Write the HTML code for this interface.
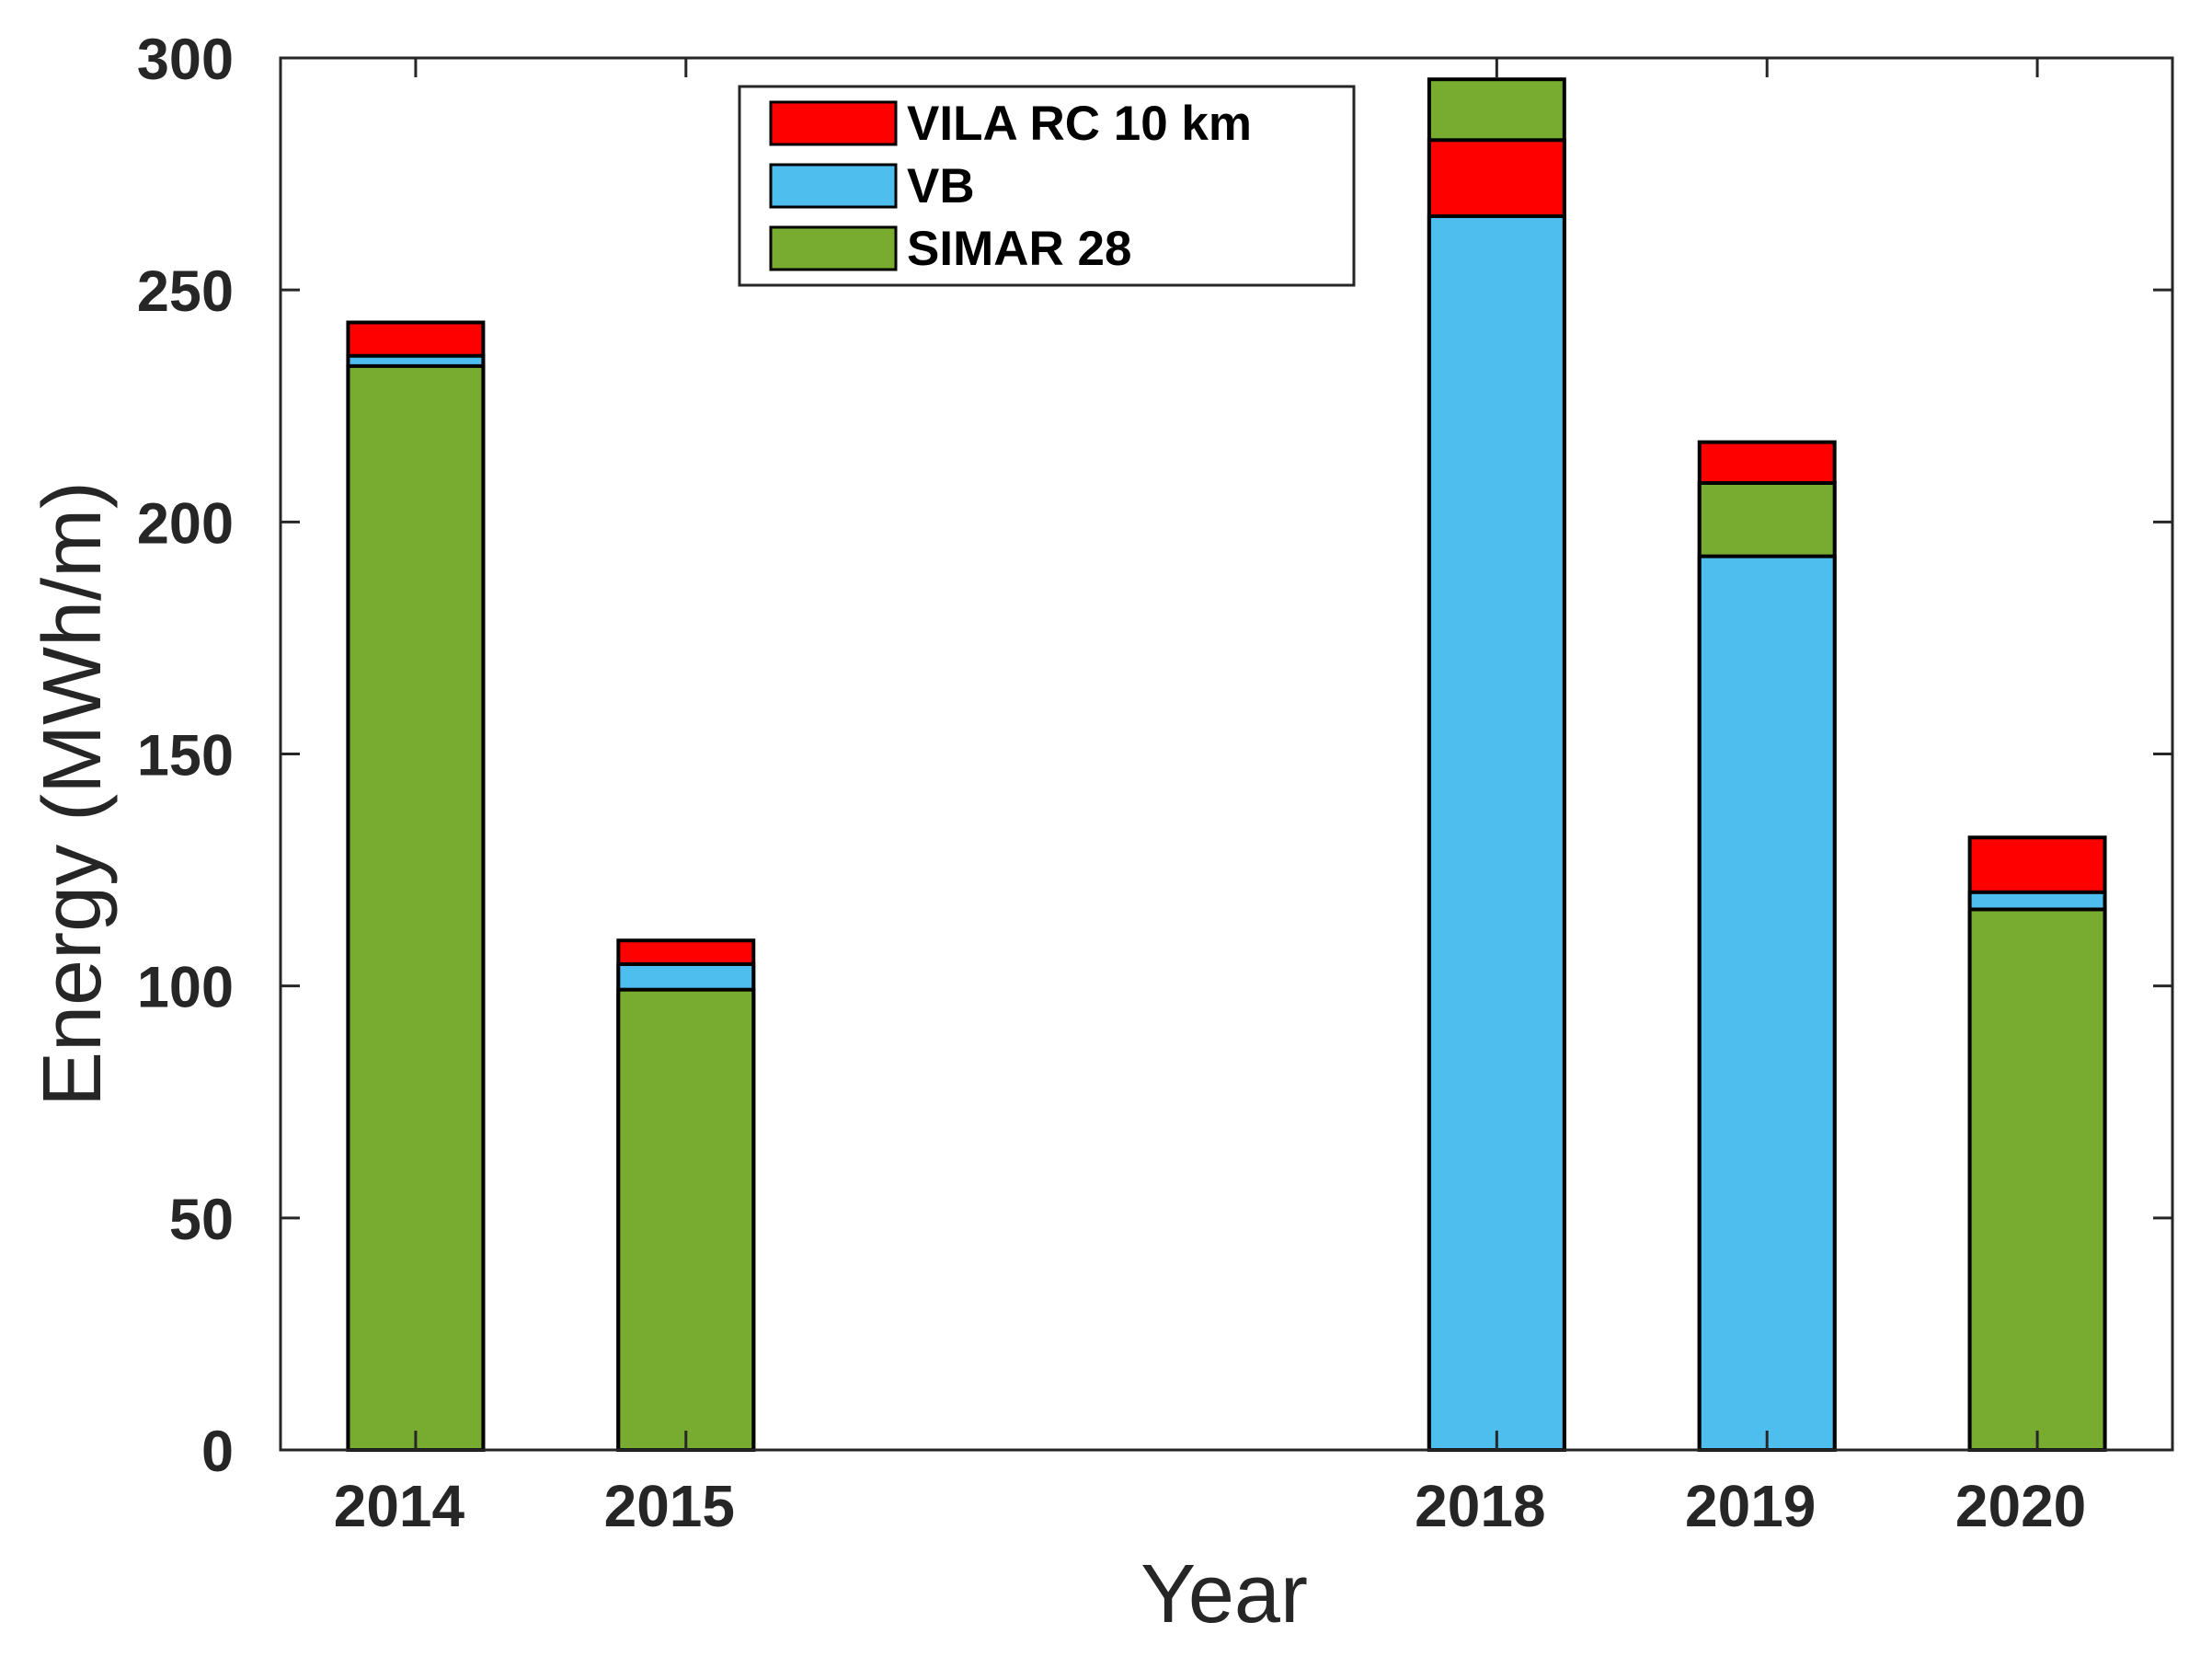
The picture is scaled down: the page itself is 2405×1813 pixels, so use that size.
<!DOCTYPE html>
<html><head><meta charset="utf-8"><style>
html,body{margin:0;padding:0;background:#fff}
svg{display:block;font-family:"Liberation Sans",sans-serif}
</style></head><body>
<svg id="chart" width="2405" height="1813" viewBox="0 0 2405 1813" xmlns="http://www.w3.org/2000/svg">
<rect x="0" y="0" width="2405" height="1813" fill="#fff"/>
<g id="bars"></g>
<g id="axes"></g>
<text x="85" y="863" transform="rotate(-90 85 863)" text-anchor="middle" dominant-baseline="middle" font-size="90" fill="#262626">Energy (MWh/m)</text>
<text x="1331" y="1763" text-anchor="middle" font-size="90" fill="#262626">Year</text>
<g id="legend"></g>
</svg>
<script>
const years = [2014, 2015, 2018, 2019, 2020];
const seriesNames = ["VILA RC 10 km", "VB", "SIMAR 28"];
const seriesColors = ["#ff0000", "#4dbeee", "#77ac30"];
const vilaValues = [243, 109.8, 282.3, 217.2, 132];
const vbValues = [235.8, 104.7, 265.9, 192.6, 120.2];
const simarValues = [233.6, 99.2, 295.4, 208.4, 116.5];
const yTicks = [0, 50, 100, 150, 200, 250, 300];
const xTickLabels = ["2014", "2015", "2018", "2019", "2020"];

const NS = "http://www.w3.org/2000/svg";
const L = 305, R = 2362, T = 63, B = 1576;
const xMin = 2013.5, xMax = 2020.5, yMin = 0, yMax = 300;
const xScale = v => L + (v - xMin) / (xMax - xMin) * (R - L);
const yScale = v => B - (v - yMin) / (yMax - yMin) * (B - T);
const barW = (xScale(1) - xScale(0)) * 0.5;

function mk(tag, attrs, parent) {
  const e = document.createElementNS(NS, tag);
  for (const k in attrs) e.setAttribute(k, attrs[k]);
  parent.appendChild(e);
  return e;
}
const barsG = document.getElementById("bars");
const allSeries = [vilaValues, vbValues, simarValues];
const seriesKeys = ["vila", "vb", "simar"];
years.forEach((yr, i) => {
  const order = [0, 1, 2].sort((a, b) => allSeries[b][i] - allSeries[a][i]);
  order.forEach(s => {
    const v = allSeries[s][i];
    const r = mk("rect", {x: xScale(yr) - barW / 2, y: yScale(v), width: barW, height: yScale(0) - yScale(v),
      fill: seriesColors[s], stroke: "#000", "stroke-width": 4}, barsG);
    
    
  });
});

const axG = document.getElementById("axes");
const box = mk("rect", {x: L, y: T, width: R - L, height: B - T, fill: "none", stroke: "#262626", "stroke-width": 3}, axG);


yTicks.forEach(t => {
  const y = yScale(t);
  mk("line", {x1: L, x2: L + 21, y1: y, y2: y, stroke: "#262626", "stroke-width": 3}, axG);
  mk("line", {x1: R, x2: R - 21, y1: y, y2: y, stroke: "#262626", "stroke-width": 3}, axG);
  const tx = mk("text", {x: 254, y: y + 23, "text-anchor": "end", "font-size": 63, "font-weight": "bold", fill: "#262626"}, axG);
  tx.textContent = t;
  
  
});
years.forEach((yr, i) => {
  const x = xScale(yr);
  mk("line", {x1: x, x2: x, y1: B, y2: B - 21, stroke: "#262626", "stroke-width": 3}, axG);
  mk("line", {x1: x, x2: x, y1: T, y2: T + 21, stroke: "#262626", "stroke-width": 3}, axG);
  const tx = mk("text", {x: x - 18, y: 1659, "text-anchor": "middle", "font-size": 64, "font-weight": "bold", fill: "#262626"}, axG);
  tx.textContent = xTickLabels[i];
  
  
});

const lg = document.getElementById("legend");
const lbox = mk("rect", {x: 804, y: 94, width: 668, height: 216, fill: "#fff", stroke: "#262626", "stroke-width": 3}, lg);


seriesNames.forEach((n, s) => {
  const cy = 134 + s * 68;
  const sw = mk("rect", {x: 838, y: cy - 23, width: 136, height: 46, fill: seriesColors[s], stroke: "#000", "stroke-width": 3}, lg);
  
  
  const tx = mk("text", {x: 986, y: cy + 18, "font-size": 53, "font-weight": "bold", fill: "#000"}, lg);
  tx.textContent = n;
  
  
});
</script>
</body></html>
